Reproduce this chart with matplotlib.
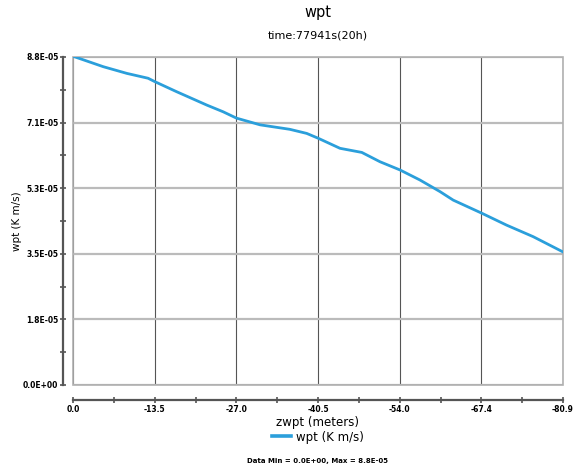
import numpy as np
import matplotlib
matplotlib.use("Agg")
import matplotlib.pyplot as plt
from matplotlib.patches import Rectangle
from matplotlib.ticker import AutoMinorLocator

# data (depth in meters, wpt in K m/s)
zwpt = [0.0, -5.0, -8.9, -12.4, -13.5, -17.1, -22.1, -24.8, -27.0, -30.9,
        -35.8, -38.6, -40.5, -44.1, -47.7, -50.7, -54.0, -57.3, -60.6,
        -62.8, -67.5, -71.6, -76.0, -80.93]
wpt = [8.82e-05, 8.54e-05, 8.36e-05, 8.23e-05, 8.14e-05, 7.87e-05, 7.51e-05,
       7.33e-05, 7.16e-05, 6.98e-05, 6.86e-05, 6.75e-05, 6.62e-05, 6.35e-05,
       6.24e-05, 5.99e-05, 5.77e-05, 5.50e-05, 5.19e-05, 4.96e-05, 4.61e-05,
       4.29e-05, 3.98e-05, 3.57e-05]
x_ticklabels = ["0.0", "-13.5", "-27.0", "-40.5", "-54.0", "-67.4", "-80.9"]
y_ticklabels = ["0.0E+00", "1.8E-05", "3.5E-05", "5.3E-05", "7.1E-05", "8.8E-05"]
y_max = 8.8e-05

line_color = "#2b9fdb"

fig = plt.figure(figsize=(5.74, 4.68), dpi=100)
ax = fig.add_axes([73 / 574, 1 - 385 / 468, 490 / 574, 328 / 468])

ax.plot(zwpt, wpt, color=line_color, lw=2.0, label="wpt (K m/s)")

ax.set_xlim(0, zwpt[-1])
ax.set_ylim(0, y_max)
xt = np.linspace(0, zwpt[-1], len(x_ticklabels))
yt = np.linspace(0, y_max, len(y_ticklabels))
ax.set_xticks(xt)
ax.set_xticklabels(x_ticklabels)
ax.set_yticks(yt)
ax.set_yticklabels(y_ticklabels)
ax.xaxis.set_minor_locator(AutoMinorLocator(2))
ax.yaxis.set_minor_locator(AutoMinorLocator(2))

# grid: dark thin verticals, light thick horizontals
for x in xt:
    ax.axvline(x, color="#555555", lw=0.8, zorder=0)
for y in yt:
    ax.axhline(y, color="#bbbbbb", lw=1.6, zorder=0)
ax.add_patch(Rectangle((0, 0), 1, 1, transform=ax.transAxes, fill=False,
                       edgecolor="#b0b0b0", lw=1.2, clip_on=False, zorder=1))

for s in ["top", "right"]:
    ax.spines[s].set_visible(False)
ax.spines["left"].set_position(("outward", 7))
ax.spines["bottom"].set_position(("outward", 11))
for s in ["left", "bottom"]:
    ax.spines[s].set_color("#555555")
    ax.spines[s].set_linewidth(1.6)

ax.tick_params(which="major", direction="inout", length=5, width=1.2,
               color="#555555", labelsize=5.5, pad=1)
ax.tick_params(which="minor", direction="inout", length=4, width=1.2,
               color="#555555")
for lab in ax.get_xticklabels() + ax.get_yticklabels():
    lab.set_fontweight("bold")

ax.set_xlabel("zwpt (meters)", fontsize=8.5, labelpad=1)
ax.set_ylabel("wpt (K m/s)", fontsize=7.5)
ax.yaxis.set_label_coords(-0.104, 0.5)

fig.text(0.554, 1 - 13 / 468, "wpt", ha="center", va="center", fontsize=10.5)
fig.text(0.554, 1 - 36 / 468, "time:77941s(20h)", ha="center", va="center",
         fontsize=8)

leg = ax.legend(loc="center", bbox_to_anchor=(318 / 574, 1 - 437 / 468),
                bbox_transform=fig.transFigure, frameon=False, fontsize=8.5,
                handlelength=1.6, handletextpad=0.4)
leg.get_lines()[0].set_linewidth(2.6)

fig.text(0.554, 1 - 461 / 468, "Data Min = 0.0E+00, Max = 8.8E-05",
         ha="center", va="center", fontsize=5, fontweight="bold")

fig.savefig("out.png", dpi=100)
